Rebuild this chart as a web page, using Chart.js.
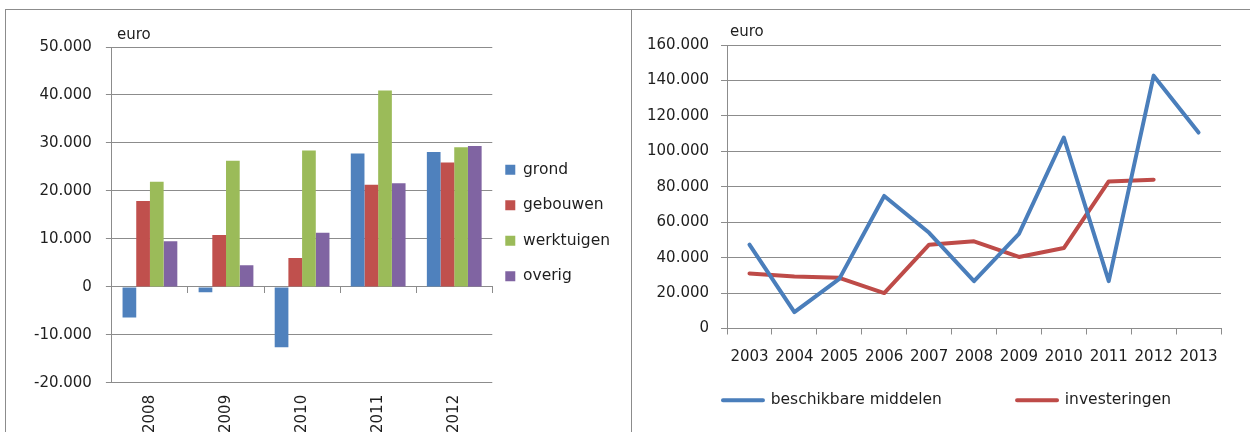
<!DOCTYPE html>
<html>
<head>
<meta charset="utf-8">
<script src="https://cdn.jsdelivr.net/npm/chart.js@4.4.1/dist/chart.umd.min.js"></script>
<style>
body { margin: 0; background: #fff; width: 1250px; height: 432px; overflow: hidden; position: relative; }
#kader { position: absolute; left: 5px; top: 9px; width: 1400px; height: 600px; border: 1px solid #8c8c8c; }
#scheiding { position: absolute; left: 631px; top: 10px; width: 1px; height: 600px; background: #8c8c8c; }
#links { position: absolute; left: 7px; top: 11px; width: 623px; height: 434px; }
#rechts { position: absolute; left: 633px; top: 11px; width: 617px; height: 411px; }
</style>
</head>
<body>
<div id="kader"></div>
<div id="scheiding"></div>
<div id="links"><canvas id="staaf"></canvas></div>
<div id="rechts"><canvas id="lijn"></canvas></div>
<script>
// linker grafiek: investeringen per soort
var jaren = ['2008', '2009', '2010', '2011', '2012'];
var grond = [-6400, -1100, -12600, 27800, 28100];
var gebouwen = [17900, 10800, 6000, 21300, 25900];
var werktuigen = [21900, 26300, 28450, 40950, 29100];
var overig = [9500, 4500, 11300, 21600, 29350];

// rechter grafiek: middelen en investeringen
var jarenLijn = ['2003', '2004', '2005', '2006', '2007', '2008', '2009', '2010', '2011', '2012', '2013'];
var middelen = [47300, 9200, 28000, 74800, 54000, 26700, 53400, 107800, 26700, 142700, 110600];
var investeringen = [31100, 29400, 28600, 20000, 47300, 49200, 40400, 45400, 83000, 84000];

var grijs = '#8c8c8c';
var tekst = '#1e1e1e';

Chart.defaults.font.family = '"DejaVu Sans", sans-serif';
Chart.defaults.font.size = 15;
Chart.defaults.color = tekst;
Chart.defaults.animation = false;

function euro(v) {
    var s = String(Math.abs(v)).replace(/\B(?=(\d{3})+(?!\d))/g, '.');
    return v < 0 ? '-' + s : s;
}

// "euro" boven de y-as
var euroLabel = {
    id: 'euroLabel',
    afterDraw: function (chart, args, opts) {
        var ctx = chart.ctx, a = chart.chartArea;
        ctx.save();
        ctx.font = '15px "DejaVu Sans"';
        ctx.fillStyle = tekst;
        ctx.textBaseline = 'middle';
        ctx.fillText('euro', a.left + opts.dx, a.top - opts.dy);
        ctx.restore();
    }
};

// legenda een stukje verschuiven na de layout
var legendaVerschuiving = {
    id: 'legendaVerschuiving',
    afterLayout: function (chart, args, opts) {
        var l = chart.legend;
        l.left += opts.dx;
        l.right += opts.dx;
        l.top += opts.dy;
        l.bottom += opts.dy;
    }
};

new Chart(document.getElementById('staaf'), {
    type: 'bar',
    data: {
        labels: jaren,
        datasets: [
            { label: 'grond', data: grond, backgroundColor: '#4f81bd' },
            { label: 'gebouwen', data: gebouwen, backgroundColor: '#c0504d' },
            { label: 'werktuigen', data: werktuigen, backgroundColor: '#9bbb59' },
            { label: 'overig', data: overig, backgroundColor: '#8064a2' }
        ]
    },
    options: {
        responsive: true,
        maintainAspectRatio: false,
        layout: { padding: { left: 13, top: 36, right: 3, bottom: 0 } },
        datasets: { bar: { categoryPercentage: 0.72, barPercentage: 1 } },
        scales: {
            x: {
                grid: { display: false, drawTicks: false },
                border: { display: false },
                ticks: { minRotation: 90, maxRotation: 90, padding: 12 }
            },
            x0: {
                axis: 'x',
                type: 'category',
                labels: jaren,
                position: { y: 0 },
                offset: true,
                grid: { drawOnChartArea: false, offset: true, tickLength: 6, color: grijs },
                border: { color: grijs },
                ticks: { display: false }
            },
            y: {
                min: -20000,
                max: 50000,
                ticks: { stepSize: 10000, padding: 14, callback: euro },
                grid: { color: grijs, tickLength: 6 },
                border: { color: grijs }
            }
        },
        plugins: {
            legend: {
                position: 'right',
                fullSize: false,
                labels: { boxWidth: 10, boxHeight: 10, padding: 20, font: { size: 15.5 } }
            },
            tooltip: { enabled: false },
            euroLabel: { dx: 5, dy: 12 },
            legendaVerschuiving: { dx: -7, dy: 8 }
        }
    },
    plugins: [euroLabel, legendaVerschuiving]
});

new Chart(document.getElementById('lijn'), {
    type: 'line',
    data: {
        labels: jarenLijn,
        datasets: [
            {
                label: 'beschikbare middelen', data: middelen,
                borderColor: '#4a7ebb', backgroundColor: '#4a7ebb', borderWidth: 4,
                pointRadius: 0, borderJoinStyle: 'round', borderCapStyle: 'round'
            },
            {
                label: 'investeringen', data: investeringen,
                borderColor: '#be4b48', backgroundColor: '#be4b48', borderWidth: 4,
                pointRadius: 0, borderJoinStyle: 'round', borderCapStyle: 'round'
            }
        ]
    },
    options: {
        responsive: true,
        maintainAspectRatio: false,
        layout: { padding: { left: 2, top: 34, right: 29, bottom: 0 } },
        scales: {
            x: {
                offset: true,
                grid: { offset: true, drawOnChartArea: false, tickLength: 6, color: grijs },
                border: { color: grijs },
                ticks: { padding: 14, maxRotation: 0, autoSkip: false }
            },
            y: {
                min: 0,
                max: 160000,
                ticks: { stepSize: 20000, padding: 12, callback: euro },
                grid: { color: grijs, tickLength: 6 },
                border: { color: grijs }
            }
        },
        plugins: {
            legend: {
                position: 'bottom',
                labels: {
                    boxWidth: 40, boxHeight: 0, padding: 16, font: { size: 15.5 },
                    generateLabels: function (chart) {
                        var items = Chart.defaults.plugins.legend.labels.generateLabels(chart);
                        // ruimte tussen de twee legenda-items
                        items[0].text = items[0].text + '\u00a0'.repeat(12);
                        return items;
                    }
                }
            },
            tooltip: { enabled: false },
            euroLabel: { dx: 3, dy: 13 },
            legendaVerschuiving: { dx: 19, dy: -4 }
        }
    },
    plugins: [euroLabel, legendaVerschuiving]
});
</script>
</body>
</html>
